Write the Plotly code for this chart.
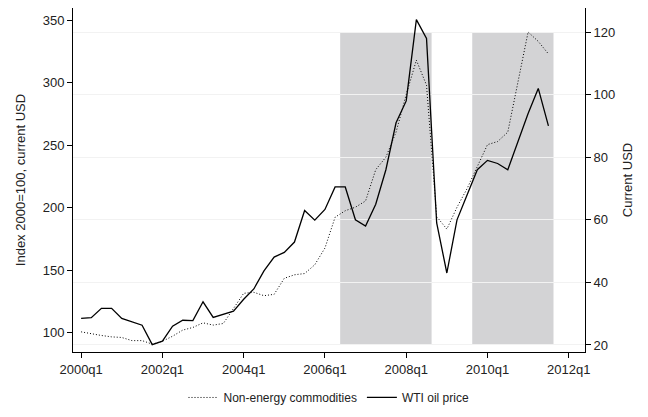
import plotly.graph_objects as go

# quarter index 0 = 2000q1
quarters = list(range(47))
non_energy = [100.8, 99.2, 97.9, 96.8, 96.3, 93.8, 93.8, 91.0, 93.3, 97.3,
              102.2, 104.3, 108.0, 106.2, 107.5, 119.5, 131.6, 132.4, 129.7, 130.8,
              143.6, 146.4, 147.4, 154.4, 167.8, 192.4, 197.6, 200.4, 205.4, 230.4,
              240.4, 260.4, 290.4, 317.9, 297.9, 192.9, 182.9, 200.4, 215.4, 232.9,
              250.4, 252.9, 260.4, 300.4, 340.4, 332.9, 322.9]
wti = [28.5, 28.7, 31.7, 31.7, 28.5, 27.4, 26.3, 20.1, 21.2, 26.0,
       27.9, 27.8, 33.8, 28.8, 29.9, 30.8, 34.6, 37.9, 43.7, 48.1,
       49.6, 52.9, 63.0, 59.9, 63.3, 70.5, 70.5, 60.0, 58.0, 65.0,
       76.0, 91.0, 98.0, 124.0, 118.0, 59.0, 43.0, 60.0, 68.0, 76.0,
       79.0, 78.0, 76.0, 85.0, 94.0, 102.0, 90.0]
shade_periods = [(25.5, 34.5), (38.5, 46.5)]
tick_vals = [0, 8, 16, 24, 32, 40, 48]
tick_text = ["2000q1", "2002q1", "2004q1", "2006q1", "2008q1", "2010q1", "2012q1"]

fig = go.Figure()
fig.add_trace(go.Scatter(x=quarters, y=non_energy, mode="lines", name="Non-energy commodities",
                         line=dict(color="black", width=1, dash="1px,2px")))
fig.add_trace(go.Scatter(x=quarters, y=wti, mode="lines", name="WTI oil price", yaxis="y2",
                         line=dict(color="black", width=1.3)))

for x0, x1 in shade_periods:
    fig.add_shape(type="rect", xref="x", yref="y2", x0=x0, x1=x1, y0=20, y1=120,
                  fillcolor="#d3d3d5", line_width=0, layer="below")

axis_font = dict(family="Liberation Sans, Arial", size=13, color="#222")
fig.update_layout(
    width=648, height=417, margin=dict(l=65, r=71, t=0, b=73),
    paper_bgcolor="white", plot_bgcolor="white",
    font=axis_font, showlegend=True,
    legend=dict(orientation="h", x=0.5, xanchor="center", y=-0.09, yanchor="top",
                font=dict(size=12)),
    xaxis=dict(range=[-0.8, 49.6], tickvals=tick_vals, ticktext=tick_text, automargin=False,
               showgrid=False, zeroline=False, showline=True, linecolor="black",
               ticks="outside", ticklen=5, tickcolor="black"),
    yaxis=dict(range=[84.7, 359.6], tickvals=[100, 150, 200, 250, 300, 350], automargin=False,
               title=dict(text="Index 2000=100, current USD", standoff=14, font=dict(size=13)),
               showgrid=False, zeroline=False, showline=True, linecolor="black",
               ticks="outside", ticklen=5, tickcolor="black"),
    yaxis2=dict(range=[17.75, 127.7], tickvals=[20, 40, 60, 80, 100, 120],
                overlaying="y", side="right", automargin=False,
                title=dict(text="Current USD", standoff=8, font=dict(size=13)),
                showgrid=True, gridcolor="#f2f2f2", zeroline=False, showline=True,
                linecolor="black", ticks="outside", ticklen=5, tickcolor="black"),
)

fig.write_html("out.html")
